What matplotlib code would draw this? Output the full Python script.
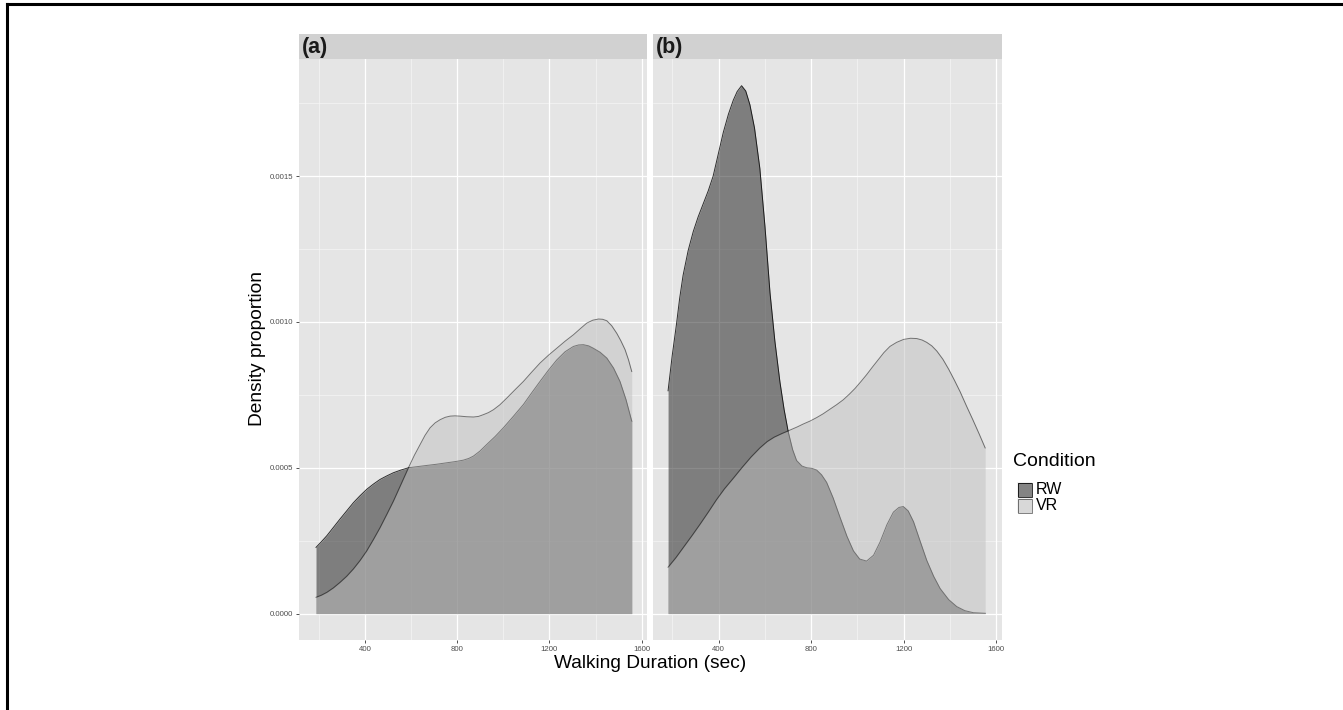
import matplotlib
matplotlib.use("Agg")
import matplotlib.pyplot as plt
from matplotlib.lines import Line2D
from matplotlib.patches import Rectangle

plt.rcParams['font.family'] = ['Liberation Sans', 'DejaVu Sans']

# ---- data: kernel density estimates of walking duration (sec) ----
panel_labels = ["(a)", "(b)"]
conditions = ["RW", "VR"]

a_rw_x = [187, 210, 234, 262, 291, 320, 349, 378, 407, 436, 465, 494, 523, 555,
          588, 628, 668, 710, 754, 790, 826, 850, 870, 898, 928, 964, 1000, 1043,
          1087, 1123, 1159, 1196, 1232, 1268, 1304, 1326, 1347, 1370, 1390, 1420,
          1449, 1478, 1506, 1532, 1557]
a_rw_y = [0.000227, 0.000246, 0.000267, 0.000295, 0.000324, 0.000352, 0.000380,
          0.000404, 0.000426, 0.000444, 0.000460, 0.000472, 0.000483, 0.000492,
          0.000500, 0.000504, 0.000508, 0.000512, 0.000517, 0.000521, 0.000526,
          0.000532, 0.000540, 0.000557, 0.000580, 0.000607, 0.000637, 0.000676,
          0.000717, 0.000757, 0.000796, 0.000835, 0.000870, 0.000898, 0.000916,
          0.000921, 0.000922, 0.000918, 0.000910, 0.000896, 0.000876, 0.000842,
          0.000796, 0.000734, 0.000660]

a_vr_x = [187, 210, 234, 262, 291, 320, 349, 378, 407, 436, 465, 494, 523, 555,
          588, 614, 639, 660, 682, 704, 726, 748, 769, 790, 812, 840, 870, 892,
          913, 935, 957, 985, 1015, 1050, 1087, 1123, 1159, 1196, 1232, 1268,
          1304, 1334, 1362, 1388, 1413, 1431, 1449, 1470, 1492, 1510, 1528, 1543,
          1557]
a_vr_y = [0.0000558, 0.0000630, 0.0000729, 0.0000880, 0.000107, 0.000128,
          0.000153, 0.000182, 0.000215, 0.000254, 0.000295, 0.000340, 0.000386,
          0.000442, 0.000500, 0.000543, 0.000580, 0.000611, 0.000637, 0.000654,
          0.000665, 0.000673, 0.000677, 0.000678, 0.000677, 0.000675, 0.000674,
          0.000676, 0.000682, 0.000689, 0.000699, 0.000716, 0.000739, 0.000767,
          0.000796, 0.000828, 0.000859, 0.000886, 0.000910, 0.000934, 0.000956,
          0.000977, 0.000996, 0.001006, 0.001010, 0.001009, 0.001004, 0.000987,
          0.000961, 0.000935, 0.000905, 0.000870, 0.000830]

b_rw_x = [181, 199, 217, 231, 246, 268, 290, 311, 333, 355, 376, 398, 420, 442,
          463, 480, 499, 517, 535, 555, 578, 600, 622, 643, 665, 683, 701, 720,
          737, 760, 781, 803, 824, 845, 867, 895, 925, 955, 983, 1010, 1040, 1070,
          1098, 1128, 1156, 1180, 1199, 1220, 1243, 1270, 1300, 1330, 1358, 1395,
          1430, 1465, 1502, 1553]
b_rw_y = [0.000764, 0.000885, 0.000990, 0.001080, 0.001160, 0.001245, 0.001310,
          0.001360, 0.001405, 0.001450, 0.001500, 0.001575, 0.001650, 0.001712,
          0.001760, 0.001790, 0.001810, 0.001792, 0.001745, 0.001665, 0.001527,
          0.001330, 0.001100, 0.000935, 0.000794, 0.000700, 0.000623, 0.000562,
          0.000525, 0.000506, 0.000500, 0.000498, 0.000492, 0.000476, 0.000450,
          0.000397, 0.000330, 0.000265, 0.000215, 0.000187, 0.000180, 0.000200,
          0.000245, 0.000305, 0.000348, 0.000364, 0.000367, 0.000352, 0.000315,
          0.000252, 0.000183, 0.000128, 0.0000860, 0.0000480, 0.0000240,
          0.0000100, 0.0000030, 0.0000010]

b_vr_x = [181, 215, 250, 285, 318, 355, 390, 425, 463, 500, 540, 578, 610, 640,
          675, 708, 740, 766, 795, 824, 852, 880, 910, 939, 965, 990, 1015, 1040,
          1065, 1090, 1115, 1141, 1170, 1200, 1230, 1257, 1280, 1300, 1322, 1344,
          1370, 1395, 1420, 1445, 1472, 1500, 1527, 1553]
b_vr_y = [0.000159, 0.000192, 0.000230, 0.000268, 0.000305, 0.000348, 0.000390,
          0.000428, 0.000464, 0.000500, 0.000537, 0.000568, 0.000590, 0.000605,
          0.000618, 0.000629, 0.000640, 0.000650, 0.000660, 0.000672, 0.000685,
          0.000700, 0.000716, 0.000733, 0.000752, 0.000772, 0.000795, 0.000819,
          0.000845, 0.000870, 0.000895, 0.000916, 0.000930, 0.000940, 0.000944,
          0.000943, 0.000938, 0.000930, 0.000918, 0.000900, 0.000872, 0.000838,
          0.000800, 0.000760, 0.000712, 0.000664, 0.000616, 0.000568]

x_ticks = [400, 800, 1200, 1600]
x_minor = [200, 600, 1000, 1400]
y_ticks = [0.0, 0.0005, 0.0010, 0.0015]
y_tick_labels = ["0.0000", "0.0005", "0.0010", "0.0015"]
y_minor = [0.00025, 0.00075, 0.00125, 0.00175]

xlim = (114.5, 1624.5)
ylim = (-0.0000906, 0.0019026)

# ---- styling ----
W, H = 1343, 710
BG = "#E5E5E5"
STRIP = "#D1D1D1"
FILL = {"RW": "#181818", "VR": "#C0C0C0"}
EDGE = {"RW": (0, 0, 0, 0.8), "VR": (0, 0, 0, 0.5)}
ALPHA = 0.5

fig = plt.figure(figsize=(W / 100, H / 100), dpi=100)


def frac(x0, y0, x1, y1):
    """Pixel box (top-left origin) to figure-fraction rect."""
    return [x0 / W, 1 - y1 / H, (x1 - x0) / W, (y1 - y0) / H]


panels = [
    (299.3, 647.3, [(a_rw_x, a_rw_y, "RW"), (a_vr_x, a_vr_y, "VR")]),
    (652.7, 1001.7, [(b_rw_x, b_rw_y, "RW"), (b_vr_x, b_vr_y, "VR")]),
]

for i, (px0, px1, curves) in enumerate(panels):
    ax = fig.add_axes(frac(px0, 58.7, px1, 640))
    ax.set_facecolor(BG)
    ax.set_xlim(*xlim)
    ax.set_ylim(*ylim)
    for s in ax.spines.values():
        s.set_visible(False)
    for v in x_minor:
        ax.axvline(v, color="#F7F7F7", lw=0.45, zorder=0.5)
    for v in x_ticks:
        ax.axvline(v, color="white", lw=0.9, zorder=0.6)
    for v in y_minor:
        ax.axhline(v, color="#F7F7F7", lw=0.45, zorder=0.5)
    for v in y_ticks:
        ax.axhline(v, color="white", lw=0.9, zorder=0.6)

    for k, (xs, ys, cond) in enumerate(curves):
        ax.fill_between(xs, 0, ys, color=FILL[cond], alpha=ALPHA, lw=0,
                        zorder=2 + 2 * k)
        ax.plot(xs, ys, color=EDGE[cond], lw=0.7, zorder=3 + 2 * k,
                solid_joinstyle="round")

    ax.set_xticks(x_ticks)
    ax.set_xticklabels([str(t) for t in x_ticks])
    ax.tick_params(axis="x", length=2.5, width=0.6, color="#333333",
                   labelsize=5.6, labelcolor="#4D4D4D", pad=2)
    if i == 0:
        ax.set_yticks(y_ticks)
        ax.set_yticklabels(y_tick_labels)
        ax.tick_params(axis="y", length=2.5, width=0.6, color="#333333",
                       labelsize=5.6, labelcolor="#4D4D4D", pad=2)
    else:
        ax.set_yticks([])

    sax = fig.add_axes(frac(px0, 34, px1, 58.7))
    sax.set_facecolor(STRIP)
    sax.set_xticks([])
    sax.set_yticks([])
    for s in sax.spines.values():
        s.set_visible(False)
    sax.text(0.008, 0.45, panel_labels[i], transform=sax.transAxes,
             ha="left", va="center", fontsize=15.5, fontweight="bold",
             color="#1A1A1A")

# axis titles
fig.text(650 / W, 1 - 664 / H, "Walking Duration (sec)", ha="center",
         va="center", fontsize=13.8, color="black")
fig.text(257 / W, 1 - 349 / H, "Density proportion", ha="center",
         va="center", rotation=90, fontsize=13.8, color="black")

# legend
fig.text(1013 / W, 1 - 461 / H, "Condition", ha="left", va="center",
         fontsize=14.0, color="black")
key_y = [482, 498]
for cond, ky in zip(conditions, key_y):
    fig.add_artist(Rectangle((1017 / W, 1 - (ky + 15) / H), 15 / W, 15 / H,
                             transform=fig.transFigure, facecolor="#F2F2F2",
                             edgecolor="none"))
    fig.add_artist(Rectangle((1017.5 / W, 1 - (ky + 14.5) / H), 14 / W, 14 / H,
                             transform=fig.transFigure, facecolor=FILL[cond],
                             alpha=ALPHA, edgecolor="none"))
    fig.add_artist(Rectangle((1017.5 / W, 1 - (ky + 14.5) / H), 14 / W, 14 / H,
                             transform=fig.transFigure, facecolor="none",
                             edgecolor=EDGE[cond], lw=0.7))
    fig.text(1036 / W, 1 - (ky + 7.5) / H, cond, ha="left", va="center",
             fontsize=11.5, color="black")

# frame lines along top and left edges
fig.add_artist(Line2D([7 / W, 7 / W], [0, 1 - 4 / H], transform=fig.transFigure,
                      color="black", lw=2.2, solid_capstyle="projecting"))
fig.add_artist(Line2D([7 / W, 1], [1 - 4 / H, 1 - 4 / H],
                      transform=fig.transFigure, color="black", lw=2.2,
                      solid_capstyle="projecting"))

fig.savefig("out.png", dpi=100, facecolor="white")
